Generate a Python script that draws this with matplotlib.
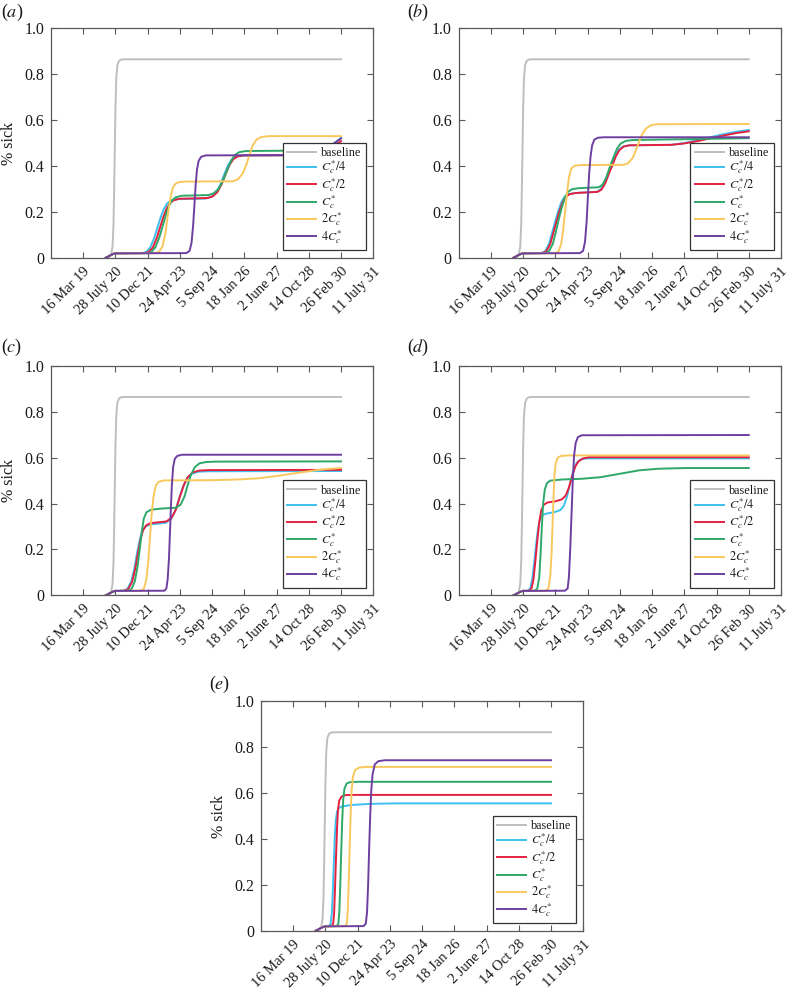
import matplotlib
matplotlib.use("Agg")
import matplotlib.pyplot as plt

plt.rcParams['font.family'] = ['Liberation Serif', 'DejaVu Serif']
plt.rcParams['mathtext.fontset'] = 'stix'

# ---------------- data (x = days since 2 Nov 2017, y = fraction sick) -------------
tick_days = [500, 1000, 1500, 2000, 2500, 3000, 3500, 4000, 4500, 5000]
tick_labels = ['16 Mar 19', '28 July 20', '10 Dec 21', '24 Apr 23', '5 Sep 24',
               '18 Jan 26', '2 June 27', '14 Oct 28', '26 Feb 30', '11 July 31']
y_ticks = [0, 0.2, 0.4, 0.6, 0.8, 1.0]
y_tick_labels = ['0', '0.2', '0.4', '0.6', '0.8', '1.0']

series_names = ['baseline', r'$C_c^{*}/4$', r'$C_c^{*}/2$', r'$C_c^{*}$', r'$2C_c^{*}$', r'$4C_c^{*}$']
series_colors = ['#bebebe', '#3ec0ef', '#e5203f', '#2ea869', '#f8c85c', '#6e3fa0']

START = [(850, 0.0), (880, 0.004), (910, 0.009), (940, 0.013), (970, 0.017)]

BASELINE = [(890, 0.0), (930, 0.01), (955, 0.05), (970, 0.15), (980, 0.3), (990, 0.48),
            (1000, 0.65), (1012, 0.78), (1030, 0.84), (1055, 0.858), (1090, 0.864),
            (1150, 0.865), (4500, 0.865)]

# panel (a)
A_C4 = [(1000, 0.019), (1420, 0.02), (1480, 0.026), (1540, 0.045), (1600, 0.085), (1650, 0.13),
        (1700, 0.175), (1750, 0.212), (1800, 0.236), (1860, 0.249), (1950, 0.255), (2400, 0.258),
        (2480, 0.264), (2560, 0.283), (2630, 0.32), (2690, 0.365), (2750, 0.405), (2810, 0.43),
        (2880, 0.442), (2980, 0.446), (3900, 0.447), (4050, 0.452), (4200, 0.465), (4350, 0.49),
        (4500, 0.522)]
A_C2 = [(1000, 0.019), (1460, 0.02), (1520, 0.026), (1580, 0.045), (1640, 0.085), (1690, 0.13),
        (1740, 0.175), (1790, 0.212), (1840, 0.236), (1900, 0.25), (1990, 0.257), (2420, 0.26),
        (2500, 0.266), (2580, 0.285), (2650, 0.322), (2710, 0.365), (2770, 0.405), (2830, 0.43),
        (2900, 0.442), (3000, 0.446), (3900, 0.447), (4100, 0.455), (4250, 0.47), (4400, 0.49),
        (4500, 0.508)]
A_C1 = [(1000, 0.019), (1500, 0.02), (1560, 0.026), (1620, 0.046), (1680, 0.088), (1730, 0.135),
        (1780, 0.185), (1830, 0.226), (1880, 0.251), (1940, 0.264), (2030, 0.27), (2440, 0.273),
        (2520, 0.28), (2600, 0.3), (2670, 0.337), (2730, 0.38), (2790, 0.42), (2850, 0.447),
        (2920, 0.46), (3020, 0.465), (3900, 0.467), (4200, 0.472), (4400, 0.479), (4500, 0.484)]
A_2C = [(1000, 0.019), (1620, 0.02), (1680, 0.026), (1730, 0.05), (1770, 0.1), (1800, 0.16),
        (1830, 0.22), (1860, 0.27), (1890, 0.304), (1930, 0.322), (1990, 0.33), (2100, 0.332),
        (2820, 0.333), (2900, 0.342), (2970, 0.365), (3030, 0.405), (3080, 0.45), (3130, 0.49),
        (3190, 0.515), (3260, 0.526), (3380, 0.53), (4500, 0.53)]
A_4C = [(1000, 0.019), (2100, 0.02), (2150, 0.03), (2180, 0.065), (2205, 0.14), (2225, 0.23),
        (2245, 0.32), (2265, 0.385), (2290, 0.422), (2330, 0.44), (2400, 0.446), (3900, 0.447),
        (4050, 0.452), (4200, 0.465), (4350, 0.49), (4500, 0.52)]

# panel (b)
B_C4 = [(1000, 0.019), (1280, 0.02), (1340, 0.028), (1400, 0.06), (1450, 0.11), (1494, 0.155),
        (1540, 0.2), (1590, 0.24), (1640, 0.265), (1700, 0.277), (1800, 0.282), (2140, 0.287),
        (2200, 0.297), (2260, 0.325), (2320, 0.37), (2373, 0.405), (2420, 0.44), (2480, 0.47),
        (2550, 0.485), (2640, 0.49), (3300, 0.492), (3500, 0.5), (3700, 0.512), (3900, 0.525),
        (4100, 0.538), (4300, 0.549), (4500, 0.557)]
B_C2 = [(1000, 0.019), (1300, 0.02), (1360, 0.028), (1420, 0.06), (1470, 0.11), (1514, 0.155),
        (1560, 0.2), (1610, 0.24), (1660, 0.265), (1720, 0.277), (1820, 0.282), (2155, 0.287),
        (2215, 0.297), (2275, 0.325), (2335, 0.37), (2388, 0.405), (2435, 0.44), (2495, 0.47),
        (2565, 0.485), (2655, 0.49), (3300, 0.492), (3500, 0.498), (3700, 0.508), (3900, 0.52),
        (4100, 0.532), (4300, 0.543), (4500, 0.551)]
B_C1 = [(1000, 0.019), (1340, 0.02), (1400, 0.028), (1460, 0.06), (1505, 0.11), (1550, 0.165),
        (1595, 0.215), (1645, 0.26), (1695, 0.287), (1760, 0.299), (1860, 0.303), (2170, 0.307),
        (2230, 0.318), (2290, 0.35), (2350, 0.4), (2405, 0.44), (2455, 0.475), (2515, 0.498),
        (2590, 0.509), (2700, 0.513), (4500, 0.521)]
B_2C = [(1000, 0.019), (1500, 0.02), (1550, 0.028), (1590, 0.06), (1620, 0.12), (1650, 0.2),
        (1680, 0.28), (1710, 0.35), (1745, 0.388), (1800, 0.401), (1900, 0.404), (2560, 0.405),
        (2630, 0.412), (2700, 0.435), (2750, 0.47), (2790, 0.5), (2840, 0.535), (2900, 0.562),
        (2980, 0.577), (3080, 0.582), (4500, 0.583)]
B_4C = [(1000, 0.019), (1880, 0.02), (1930, 0.03), (1960, 0.07), (1985, 0.16), (2005, 0.27),
        (2025, 0.37), (2045, 0.44), (2070, 0.49), (2105, 0.515), (2160, 0.523), (2250, 0.525),
        (4500, 0.525)]

# panel (c)
C_C4 = [(1000, 0.019), (1125, 0.02), (1185, 0.028), (1245, 0.06), (1295, 0.12), (1335, 0.185),
        (1375, 0.24), (1415, 0.28), (1465, 0.3), (1540, 0.309), (1780, 0.316), (1860, 0.332),
        (1930, 0.37), (1990, 0.425), (2050, 0.475), (2110, 0.51), (2190, 0.531), (2290, 0.539),
        (2450, 0.541), (4500, 0.542)]
C_C2 = [(1000, 0.019), (1140, 0.02), (1200, 0.028), (1260, 0.06), (1310, 0.12), (1350, 0.185),
        (1390, 0.245), (1430, 0.285), (1480, 0.306), (1550, 0.315), (1790, 0.322), (1870, 0.338),
        (1940, 0.375), (2000, 0.43), (2060, 0.48), (2120, 0.515), (2200, 0.536), (2300, 0.544),
        (2450, 0.546), (4500, 0.547)]
C_C1 = [(1000, 0.019), (1190, 0.02), (1250, 0.028), (1300, 0.06), (1345, 0.13), (1380, 0.21),
        (1410, 0.28), (1440, 0.335), (1480, 0.362), (1550, 0.373), (1700, 0.378), (1940, 0.382),
        (2010, 0.395), (2070, 0.43), (2120, 0.48), (2170, 0.525), (2230, 0.558), (2300, 0.575),
        (2400, 0.581), (2550, 0.583), (4500, 0.584)]
C_2C = [(1000, 0.019), (1390, 0.02), (1440, 0.028), (1480, 0.07), (1510, 0.15), (1535, 0.25),
        (1560, 0.35), (1590, 0.43), (1625, 0.478), (1670, 0.495), (1750, 0.501), (2500, 0.502),
        (2900, 0.505), (3200, 0.51), (3500, 0.52), (3800, 0.533), (4100, 0.545), (4300, 0.551),
        (4500, 0.555)]
C_4C = [(1000, 0.019), (1760, 0.02), (1790, 0.03), (1810, 0.07), (1830, 0.16), (1845, 0.27),
        (1860, 0.38), (1875, 0.48), (1895, 0.56), (1920, 0.595), (1960, 0.608), (2030, 0.613),
        (4500, 0.613)]

# panel (d)
D_C4 = [(1000, 0.019), (1070, 0.02), (1110, 0.03), (1140, 0.07), (1170, 0.14), (1200, 0.22),
        (1230, 0.29), (1260, 0.33), (1300, 0.35), (1370, 0.357), (1480, 0.362), (1580, 0.372),
        (1630, 0.39), (1680, 0.43), (1730, 0.49), (1780, 0.545), (1830, 0.578), (1890, 0.592),
        (1980, 0.597), (4500, 0.597)]
D_C2 = [(1000, 0.019), (1090, 0.02), (1130, 0.03), (1160, 0.07), (1190, 0.15), (1220, 0.24),
        (1250, 0.32), (1280, 0.37), (1320, 0.395), (1380, 0.405), (1500, 0.41), (1600, 0.418),
        (1660, 0.435), (1710, 0.47), (1760, 0.52), (1810, 0.562), (1860, 0.585), (1930, 0.597),
        (2020, 0.602), (4500, 0.602)]
D_C1 = [(1000, 0.019), (1180, 0.02), (1220, 0.03), (1250, 0.08), (1270, 0.18), (1290, 0.3),
        (1310, 0.4), (1335, 0.46), (1370, 0.49), (1420, 0.5), (1600, 0.505), (1900, 0.508),
        (2200, 0.515), (2500, 0.53), (2800, 0.545), (3100, 0.552), (3500, 0.555), (4500, 0.555)]
D_2C = [(1000, 0.019), (1350, 0.02), (1390, 0.03), (1420, 0.08), (1440, 0.18), (1455, 0.3),
        (1470, 0.42), (1485, 0.52), (1505, 0.575), (1535, 0.6), (1590, 0.608), (1700, 0.61),
        (4500, 0.61)]
D_4C = [(1000, 0.019), (1650, 0.02), (1690, 0.03), (1710, 0.08), (1730, 0.2), (1750, 0.35),
        (1770, 0.5), (1790, 0.61), (1815, 0.665), (1850, 0.69), (1910, 0.698), (4500, 0.699)]

# panel (e)
E_C4 = [(1000, 0.019), (1050, 0.02), (1080, 0.03), (1100, 0.08), (1115, 0.18), (1130, 0.3),
        (1145, 0.41), (1160, 0.48), (1180, 0.52), (1210, 0.535), (1260, 0.542), (1400, 0.548),
        (1700, 0.553), (2100, 0.555), (4500, 0.555)]
E_C2 = [(1000, 0.019), (1090, 0.02), (1120, 0.03), (1135, 0.08), (1150, 0.2), (1165, 0.33),
        (1180, 0.45), (1195, 0.53), (1215, 0.568), (1250, 0.585), (1310, 0.591), (1450, 0.592),
        (4500, 0.592)]
E_C1 = [(1000, 0.019), (1170, 0.02), (1200, 0.03), (1215, 0.08), (1230, 0.2), (1245, 0.35),
        (1260, 0.48), (1275, 0.57), (1295, 0.62), (1330, 0.642), (1390, 0.648), (1500, 0.649),
        (4500, 0.649)]
E_2C = [(1000, 0.019), (1300, 0.02), (1330, 0.03), (1345, 0.08), (1360, 0.2), (1375, 0.36),
        (1390, 0.5), (1405, 0.61), (1425, 0.67), (1460, 0.7), (1520, 0.711), (1620, 0.714),
        (4500, 0.714)]
E_4C = [(1000, 0.019), (1590, 0.02), (1625, 0.03), (1645, 0.08), (1662, 0.2), (1678, 0.36),
        (1694, 0.5), (1710, 0.61), (1730, 0.68), (1765, 0.725), (1820, 0.739), (1920, 0.743),
        (4500, 0.743)]

panels = [
    ('a', [A_C4, A_C2, A_C1, A_2C, A_4C], True),
    ('b', [B_C4, B_C2, B_C1, B_2C, B_4C], False),
    ('c', [C_C4, C_C2, C_C1, C_2C, C_4C], True),
    ('d', [D_C4, D_C2, D_C1, D_2C, D_4C], False),
    ('e', [E_C4, E_C2, E_C1, E_2C, E_4C], True),
]

# ---------------- layout (pixels) ----------------
W, H = 793, 989
boxes = {
    'a': (51, 28.3, 373.3, 257.7),
    'b': (458.7, 28.3, 781, 257.7),
    'c': (51, 366, 373.3, 595.3),
    'd': (458.7, 366, 781, 595.3),
    'e': (261, 701.3, 583.3, 930.7),
}
label_pos = {'a': (1, 12), 'b': (407, 12), 'c': (1, 347), 'd': (407, 347), 'e': (209, 684)}

fig = plt.figure(figsize=(W / 100, H / 100), dpi=100)
spine_col = '#5a5a5a'
txt_col = '#1a1a1a'

for name, curves, ylab in panels:
    l, t, r, b = boxes[name]
    ax = fig.add_axes([l / W, 1 - b / H, (r - l) / W, (b - t) / H])
    xs, ys = zip(*BASELINE)
    ax.plot(xs, ys, color=series_colors[0], lw=1.4, label=series_names[0])
    for k, c in enumerate(curves):
        pts = START + c
        xs, ys = zip(*pts)
        ax.plot(xs, ys, color=series_colors[k + 1], lw=1.4, label=series_names[k + 1],
                solid_joinstyle='round')
    ax.set_xlim(0, 5000)
    ax.set_ylim(0, 1)
    ax.set_xticks(tick_days)
    ax.set_xticklabels(tick_labels, rotation=45, ha='right', rotation_mode='anchor',
                       fontsize=10.5, color=txt_col)
    ax.set_yticks(y_ticks)
    ax.set_yticklabels(y_tick_labels, fontsize=11.5, color=txt_col)
    ax.tick_params(direction='in', top=True, right=True, length=4, width=0.8,
                   colors=spine_col, labelcolor=txt_col)
    ax.tick_params(axis='x', pad=5)
    ax.tick_params(axis='y', pad=5)
    for s in ax.spines.values():
        s.set_color(spine_col)
        s.set_linewidth(0.9)
    if ylab:
        ax.set_ylabel('% sick', fontsize=11.5, color=txt_col, labelpad=5)
    leg = ax.legend(loc='lower right', bbox_to_anchor=(0.977, 0.034), borderaxespad=0,
                    fontsize=8.8, frameon=True, fancybox=False, handlelength=2.4,
                    handletextpad=0.4, labelspacing=0.0, borderpad=0.35)
    fr = leg.get_frame()
    fr.set_edgecolor('#333333')
    fr.set_linewidth(0.9)
    fr.set_alpha(1)
    for tx in leg.get_texts():
        tx.set_color(txt_col)
    lx, ly = label_pos[name]
    fig.text(lx / W, 1 - ly / H, '(' + r'$\it{' + name + '}$' + ')', fontsize=13,
             color=txt_col, va='center', ha='left')

fig.savefig('out.png', dpi=100)
